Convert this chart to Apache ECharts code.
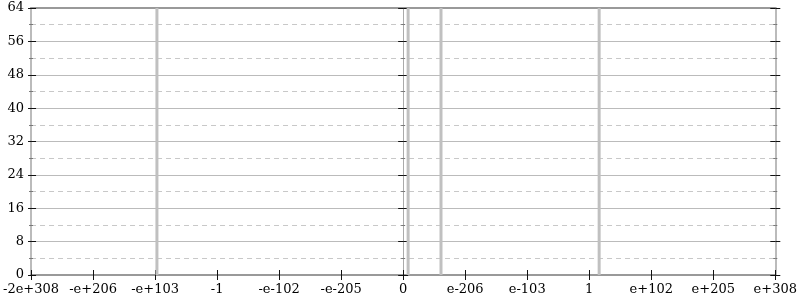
<!DOCTYPE html>
<html>
<head>
<meta charset="utf-8">
<script src="https://cdn.jsdelivr.net/npm/echarts@6/dist/echarts.min.js"></script>
<style>html,body{margin:0;padding:0;background:#fff}#c{width:800px;height:300px}</style>
</head>
<body>
<div id="c"></div>
<script>
// x tick labels (symmetric log-like index scale, positions -6..6)
var tickLabels = ['-2e+308', '-e+206', '-e+103', '-1', '-e-102', '-e-205', '0', 'e-206', 'e-103', '1', 'e+102', 'e+205', 'e+308'];
// bin positions on the index scale and their counts
var binPositions = [-3.97, 0.08, 0.61, 3.16];
var binCounts = [64, 64, 64, 64];
var yTicks = { min: 0, max: 64, interval: 8 };

var FONT = 'DejaVu Serif';
var xMin = -6, xMax = 6;

function xAxisBase(extra) {
  var a = {
    type: 'value', min: xMin, max: xMax, interval: 1,
    splitLine: { show: false },
    axisLabel: { show: false },
    axisTick: { show: false },
    axisLine: { show: false, onZero: false }
  };
  for (var k in extra) a[k] = extra[k];
  return a;
}
function yAxisBase(extra) {
  var a = {
    type: 'value', min: yTicks.min, max: yTicks.max, interval: yTicks.interval,
    splitLine: { show: false },
    axisLabel: { show: false },
    axisTick: { show: false },
    axisLine: { show: false, onZero: false }
  };
  for (var k in extra) a[k] = extra[k];
  return a;
}
var tickStyle = { color: '#111', width: 1 };
var minorStyle = { color: '#777', width: 1 };

var chart = echarts.init(document.getElementById('c'), null, { renderer: 'canvas' });
chart.setOption({
  animation: false,
  backgroundColor: '#fff',
  grid: { left: 28, right: 22, top: 8, bottom: 25, containLabel: false },
  xAxis: [
    xAxisBase({
      position: 'bottom',
      axisLine: { show: true, onZero: false, lineStyle: { color: '#999', width: 2 } },
      axisTick: { show: true, inside: false, length: 5, lineStyle: tickStyle },
      axisLabel: {
        show: true, margin: 8, color: '#000', fontFamily: FONT, fontSize: 13,
        formatter: function (v) { return tickLabels[Math.round(v - xMin)]; }
      }
    }),
    xAxisBase({
      position: 'bottom',
      axisTick: { show: true, inside: true, length: 5, lineStyle: tickStyle }
    }),
    xAxisBase({
      position: 'top',
      axisLine: { show: true, onZero: false, lineStyle: { color: '#999', width: 2 } }
    })
  ],
  yAxis: [
    yAxisBase({
      position: 'left',
      axisLine: { show: true, onZero: false, lineStyle: { color: '#bbb', width: 2 } },
      axisTick: { show: true, inside: false, length: 3, lineStyle: tickStyle },
      minorTick: { show: true, splitNumber: 2, length: 2, lineStyle: minorStyle },
      axisLabel: { show: true, margin: 7, color: '#000', fontFamily: FONT, fontSize: 13 },
      splitLine: { show: true, lineStyle: { color: '#bbb', width: 1 } },
      minorSplitLine: { show: true, lineStyle: { color: '#c8c8c8', width: 1, type: [5, 4] } }
    }),
    yAxisBase({
      position: 'left',
      axisTick: { show: true, inside: true, length: 5, lineStyle: tickStyle },
      minorTick: { show: true, splitNumber: 2, length: 2, lineStyle: minorStyle }
    }),
    yAxisBase({
      position: 'left',
      axisLine: { show: true, onZero: true, onZeroAxisIndex: 0, lineStyle: { color: '#aaa', width: 1 } },
      axisTick: { show: true, inside: false, length: 5, lineStyle: tickStyle },
      minorTick: { show: true, splitNumber: 2, length: 2, lineStyle: minorStyle }
    }),
    yAxisBase({
      position: 'left',
      axisLine: { show: false, onZero: true, onZeroAxisIndex: 0 },
      axisTick: { show: true, inside: true, length: 5, lineStyle: tickStyle },
      minorTick: { show: true, splitNumber: 2, length: 2, lineStyle: minorStyle }
    }),
    yAxisBase({
      position: 'right',
      axisLine: { show: true, onZero: false, lineStyle: { color: '#bbb', width: 2 } },
      axisTick: { show: true, inside: false, length: 5, lineStyle: tickStyle },
      minorTick: { show: true, splitNumber: 2, length: 2, lineStyle: minorStyle }
    }),
    yAxisBase({
      position: 'right',
      axisTick: { show: true, inside: true, length: 5, lineStyle: tickStyle },
      minorTick: { show: true, splitNumber: 2, length: 2, lineStyle: minorStyle }
    })
  ],
  series: [{
    type: 'bar',
    xAxisIndex: 0, yAxisIndex: 0,
    barWidth: 3,
    itemStyle: { color: '#c0c0c0' },
    data: binPositions.map(function (p, i) { return [p, binCounts[i]]; }),
    z: 1
  }]
});
</script>
</body>
</html>
